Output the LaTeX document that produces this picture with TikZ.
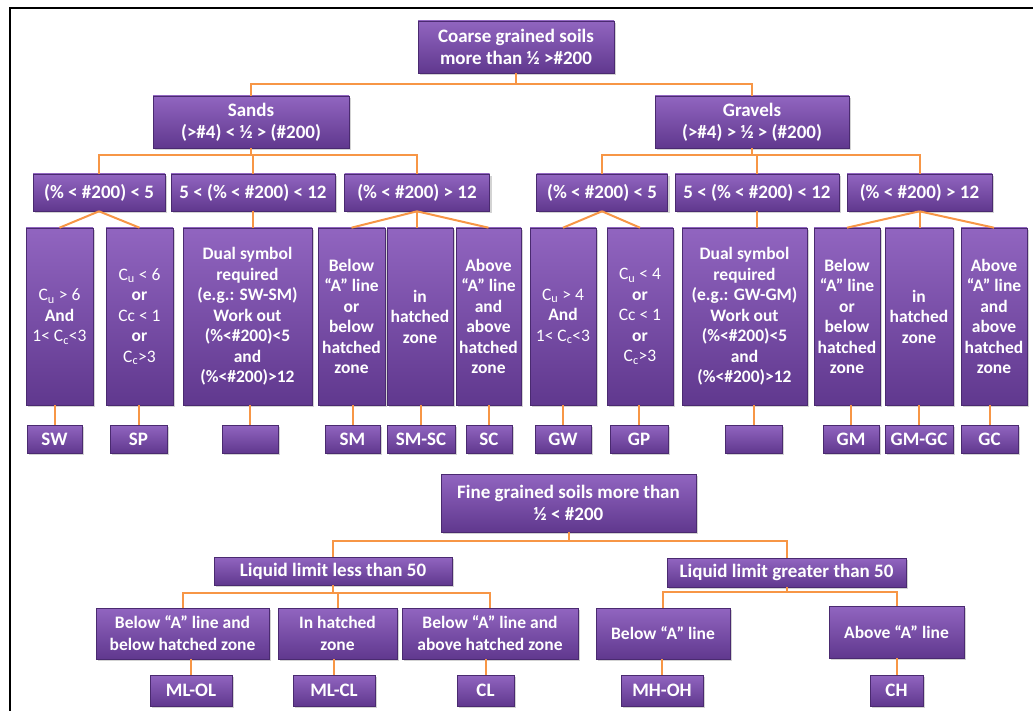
\documentclass[tikz,border=0pt]{standalone}
\usepackage{fontspec}
\setmainfont{Carlito}
\usetikzlibrary{shadows}

\definecolor{soiltop}{RGB}{145,101,192}
\definecolor{soilbottom}{RGB}{96,56,142}
\definecolor{soiledge}{RGB}{74,42,112}
\definecolor{linkorange}{RGB}{247,150,70}

\tikzset{
  soil/.style={rectangle, draw=soiledge, line width=0.6pt,
    top color=soiltop, bottom color=soilbottom, text=white,
    font=\bfseries\fontsize{19}{22}\selectfont, align=center, inner sep=0pt,
    drop shadow={shadow xshift=2pt, shadow yshift=-2pt, opacity=0.35}},
  tall/.style={soil, font=\bfseries\fontsize{17.5}{20.5}\selectfont},
  low/.style={soil, font=\bfseries\fontsize{17.5}{22}\selectfont},
  wh/.style 2 args={minimum width=#1pt, minimum height=#2pt},
  link/.style={draw=linkorange, line width=2pt},
}

\begin{document}
\begin{tikzpicture}[x=1pt, y=-1pt, line cap=butt, line join=miter]

  \useasboundingbox (0,0) rectangle (1033,711);

  % --- Rahmen (links und oben) ---
  \draw[line width=2.5pt] (10,711) -- (10,8) -- (1033,8);

  % --- grobkoernige Boeden ---
  \node[soil, wh={196}{52}] (coarse) at (516,47) {Coarse grained soils\\more than ½ >\#200};
  \node[soil, wh={196}{52}] (sands) at (251,122) {Sands\\(>\#4) < ½ > (\#200)};
  \node[soil, wh={194}{52}] (gravels) at (752,122) {Gravels\\(>\#4) > ½ > (\#200)};

  % Feinanteil, Sande
  \node[soil, wh={132}{37}] (sa) at (99,192.5) {(\% < \#200) < 5};
  \node[soil, wh={164}{37}] (sb) at (253,192.5) {5 < (\% < \#200) < 12};
  \node[soil, wh={145}{37}] (sc) at (417,192.5) {(\% < \#200) > 12};
  % Feinanteil, Kiese
  \node[soil, wh={131}{37}] (ga) at (602,192.5) {(\% < \#200) < 5};
  \node[soil, wh={164}{37}] (gb) at (757,192.5) {5 < (\% < \#200) < 12};
  \node[soil, wh={145}{37}] (gc) at (919.5,192.5) {(\% < \#200) > 12};

  % --- Kriterien (hohe Kaesten) ---
  \node[tall, wh={67}{177}] (sw) at (59.5,316.5) {{\mdseries C\textsubscript{u} > 6}\\And\\{\mdseries 1< C\textsubscript{c}<3}};
  \node[tall, wh={67}{177}] (sp) at (139.5,316.5) {{\mdseries C\textsubscript{u} < 6}\\or\\{\mdseries Cc < 1}\\or\\{\mdseries C\textsubscript{c}>3}};
  \node[tall, wh={129}{177}] (sdual) at (247.5,316.5) {Dual symbol\\required\\(e.g.: SW-SM)\\Work out\\(\%<\#200)<5\\and\\(\%<\#200)>12};
  \node[tall, wh={67}{177}] (sm) at (351.5,316.5) {Below\\“A” line\\or\\below\\hatched\\zone};
  \node[tall, wh={66}{177}] (smsc) at (420,316.5) {in\\hatched\\zone};
  \node[tall, wh={65}{177}] (scc) at (488.5,316.5) {Above\\“A” line\\and\\above\\hatched\\zone};

  \node[tall, wh={66}{177}] (gw) at (563,316.5) {{\mdseries C\textsubscript{u} > 4}\\And\\{\mdseries 1< C\textsubscript{c}<3}};
  \node[tall, wh={66}{177}] (gp) at (640,316.5) {{\mdseries C\textsubscript{u} < 4}\\or\\{\mdseries Cc < 1}\\or\\{\mdseries C\textsubscript{c}>3}};
  \node[tall, wh={125}{177}] (gdual) at (744.5,316.5) {Dual symbol\\required\\(e.g.: GW-GM)\\Work out\\(\%<\#200)<5\\and\\(\%<\#200)>12};
  \node[tall, wh={66}{177}] (gm) at (847,316.5) {Below\\“A” line\\or\\below\\hatched\\zone};
  \node[tall, wh={68}{177}] (gmgc) at (919,316.5) {in\\hatched\\zone};
  \node[tall, wh={66}{177}] (gcc) at (994,316.5) {Above\\“A” line\\and\\above\\hatched\\zone};

  % --- Gruppensymbole ---
  \node[soil, wh={55}{28}] (lsw) at (54.5,439) {SW};
  \node[soil, wh={57}{28}] (lsp) at (138.5,439) {SP};
  \node[soil, wh={56}{28}] (lsdual) at (250,439) {};
  \node[soil, wh={55}{28}] (lsm) at (352.5,439) {SM};
  \node[soil, wh={68}{28}] (lsmsc) at (421,439) {SM-SC};
  \node[soil, wh={46}{28}] (lsc) at (489,439) {SC};
  \node[soil, wh={56}{28}] (lgw) at (563,439) {GW};
  \node[soil, wh={58}{28}] (lgp) at (639,439) {GP};
  \node[soil, wh={57}{28}] (lgdual) at (753.5,439) {};
  \node[soil, wh={56}{28}] (lgm) at (851,439) {GM};
  \node[soil, wh={68}{28}] (lgmgc) at (919,439) {GM-GC};
  \node[soil, wh={57}{28}] (lgc) at (989.5,439) {GC};

  % --- feinkoernige Boeden ---
  \node[soil, wh={255}{58}] (fine) at (568.5,503) {Fine grained soils more than\\½ < \#200};
  \node[soil, wh={238}{28}] (lla) at (333,571) {Liquid limit less than 50};
  \node[soil, wh={239}{29}] (llb) at (786.5,572.5) {Liquid limit greater than 50};

  \node[low, wh={173}{51}] (fa) at (182.5,633.5) {Below “A” line and\\below hatched zone};
  \node[low, wh={119}{51}] (fb) at (337.5,633.5) {In hatched\\zone};
  \node[low, wh={176}{51}] (fc) at (490,633.5) {Below “A” line and\\above hatched zone};
  \node[low, wh={134}{51}] (fd) at (663,633.5) {Below “A” line};
  \node[low, wh={135}{52}] (fe) at (896.5,632) {Above “A” line};

  \node[soil, wh={82}{31}] (lmlol) at (191,690.5) {ML-OL};
  \node[soil, wh={82}{31}] (lmlcl) at (334,690.5) {ML-CL};
  \node[soil, wh={57}{31}] (lcl) at (485.5,690.5) {CL};
  \node[soil, wh={82}{31}] (lmhoh) at (662,690.5) {MH-OH};
  \node[soil, wh={53}{31}] (lch) at (896.5,690.5) {CH};

  % --- Verbindungen ---
  \foreach \c in {sands,gravels}
    \draw[link] (coarse.south) -- ++(0,11) -| (\c.north);
  \foreach \c in {sa,sb,sc}
    \draw[link] (sands.south) -- ++(0,7) -| (\c.north);
  \foreach \c in {ga,gb,gc}
    \draw[link] (gravels.south) -- ++(0,7) -| (\c.north);

  \foreach \p/\c in {sa/sw,sa/sp,sc/sm,sc/scc,ga/gw,ga/gp,gc/gm,gc/gcc}
    \draw[link] (\p.south) -- (\c.north);
  \foreach \p/\c in {sb/sdual,sc/smsc,gb/gdual,gc/gmgc}
    \draw[link] (\p.south) -- (\p.south |- \c.north);

  \foreach \p/\c in {sw/lsw,sp/lsp,sdual/lsdual,sm/lsm,smsc/lsmsc,scc/lsc,gw/lgw,gp/lgp,gdual/lgdual,gm/lgm,gmgc/lgmgc,gcc/lgc}
    \draw[link] (\p.south -| \c.north) -- (\c.north);

  \foreach \c in {lla,llb}
    \draw[link] (fine.south) -- ++(0,9) -| (\c.north);
  \foreach \c in {fa,fb,fc}
    \draw[link] (lla.south) -- ++(0,8) -| (\c.north);
  \foreach \c in {fd,fe}
    \draw[link] (llb.south) -- ++(0,5) -| (\c.north);

  \foreach \p/\c in {fa/lmlol,fb/lmlcl,fc/lcl,fd/lmhoh,fe/lch}
    \draw[link] (\p.south -| \c.north) -- (\c.north);

\end{tikzpicture}
\end{document}
